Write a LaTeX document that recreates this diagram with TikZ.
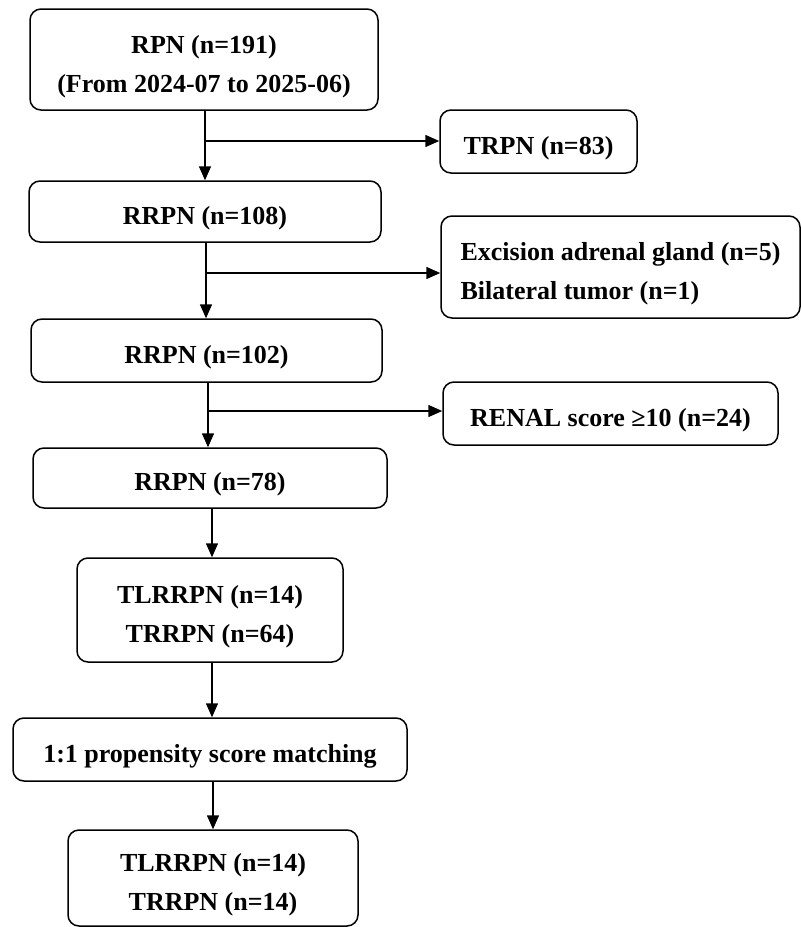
\documentclass[tikz,border=0pt]{standalone}
\usepackage{fontspec}
\setmainfont{Liberation Serif}
\usepackage{tikz}
\usetikzlibrary{arrows.meta,positioning}

\begin{document}
\begin{tikzpicture}[x=1pt, y=-1pt,
    box/.style={draw, rounded corners=11pt, line width=1.5pt, inner sep=0pt,
                font=\fontsize{26}{39}\selectfont\bfseries, align=center,
                execute at begin node={\rule{0pt}{#1}}},
    box/.default=31pt,
    arr/.style={-{Triangle[length=14pt,width=12pt]}, line width=1.5pt}
]
\useasboundingbox (0,0) rectangle (801,927);

\node[box=72pt, minimum width=348pt, minimum height=101pt] (rpn) at (204,59.5) {RPN (n=191)\\(From 2024-07 to 2025-06)};
\node[box, minimum width=197pt, minimum height=63pt] (trpn) at (538.5,141.5) {TRPN (n=83)};
\node[box, minimum width=352pt, minimum height=61pt] (rrpnA) at (205,211.5) {RRPN (n=108)};
\node[box=70pt, minimum width=359pt, minimum height=102pt, align=left] (excl) at (620.5,267) {Excision adrenal gland (n=5)\\Bilateral tumor (n=1)};
\node[box, minimum width=351pt, minimum height=63pt] (rrpnB) at (206.5,350.5) {RRPN (n=102)};
\node[box, minimum width=335pt, minimum height=63pt] (renal) at (610.5,413.5) {RENAL score ≥10 (n=24)};
\node[box, minimum width=354pt, minimum height=60pt] (rrpnC) at (210,478) {RRPN (n=78)};
\node[box=70pt, minimum width=266pt, minimum height=104pt] (groups) at (210,610) {TLRRPN (n=14)\\TRRPN (n=64)};
\node[box, minimum width=394pt, minimum height=63pt] (psm) at (210,749.5) {1:1 propensity score matching};
\node[box=70pt, minimum width=290pt, minimum height=96pt] (matched) at (213,878) {TLRRPN (n=14)\\TRRPN (n=14)};

% branch points
\coordinate (bA) at (205,141);
\coordinate (bB) at (206,273);
\coordinate (bC) at (208,411);
\coordinate (bD) at (212,0);

\draw[arr] (rpn.south -| bA) -- (rrpnA.north -| bA);
\draw[arr] (bA) -- (bA -| trpn.west);
\draw[arr] (rrpnA.south -| bB) -- (rrpnB.north -| bB);
\draw[arr] (bB) -- (bB -| excl.west);
\draw[arr] (rrpnB.south -| bC) -- (rrpnC.north -| bC);
\draw[arr] (bC) -- (bC -| renal.west);
\draw[arr] (rrpnC.south -| bD) -- (groups.north -| bD);
\draw[arr] (groups.south -| bD) -- (psm.north -| bD);
\draw[arr] (psm.south -| matched.north) -- (matched.north);
\end{tikzpicture}
\end{document}
